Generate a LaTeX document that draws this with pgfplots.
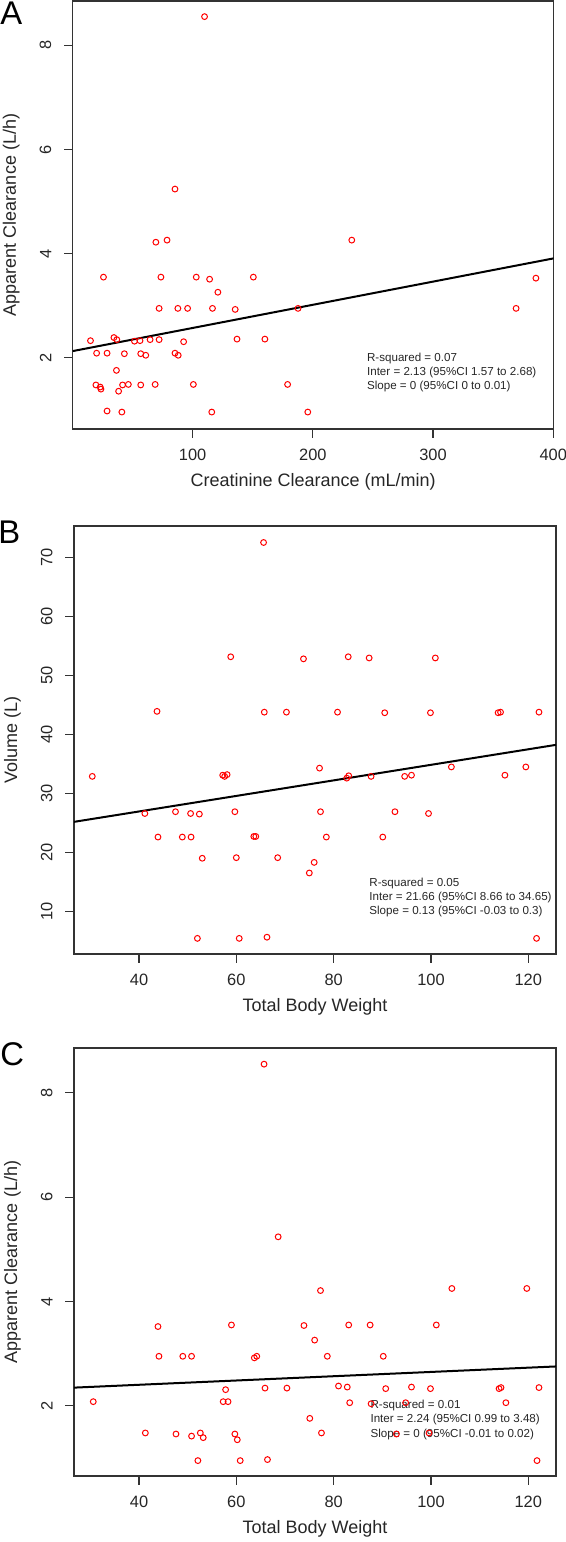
\documentclass[border=0pt]{standalone}
\usepackage{fontspec}
\setmainfont{Liberation Sans}
\usepackage{pgfplots}
\pgfplotsset{compat=1.18}
\pgfkeys{/pgf/number format/assume math mode=true}
\definecolor{rline}{HTML}{333333}
\tikzset{ytln/.style={xshift=-10.5pt, rotate=90, anchor=south, inner sep=0pt,
  font=\fontsize{8.2}{9.6}\selectfont, text=black!85}}
\newcommand\ytl[1]{\foreach \v in {#1}{%
  \draw[rline, line width=0.6pt] ({rel axis cs:0,0} |- {axis cs:0,\v}) -- ++(-4.4pt,0);%
  \node[ytln] at ({rel axis cs:0,0} |- {axis cs:0,\v}) {\v};}}
\begin{document}
\begin{tikzpicture}[x=1pt,y=1pt]
\useasboundingbox (0,0) rectangle (283,771);
\pgfplotsset{
  rstyle/.style={
    scale only axis, width=240.5pt, height=214pt,
    axis line style={rline, line width=0.7pt},
    tick align=outside, major tick length=4.4pt,
    xtick pos=left, ytick=\empty,
    tick style={rline, line width=0.6pt},
    every tick label/.append style={font=\fontsize{8.2}{9.6}\selectfont, text=black!85},
    label style={font=\fontsize{9}{10.8}\selectfont, text=black!85},
    xticklabel style={anchor=base, inner sep=0pt, yshift=-11.5pt},
    xlabel style={at={(axis description cs:0.5,-0.1355)}, anchor=base, inner sep=0pt},
    ylabel style={at={(axis description cs:-0.1179,0.5)}, anchor=base, inner sep=0pt},
    clip=true,
  },
  pts/.style={only marks, mark=o, mark size=1.45pt, mark options={red, line width=0.5pt}},
  reg/.style={black, line width=1pt, no marks},
}
\tikzset{ann/.style={anchor=base west, inner sep=0pt, font=\fontsize{5.8}{7}\selectfont, text=black!85}}

% Panel A
\begin{axis}[rstyle, at={(36.35pt,556.5pt)},
  xmin=0.2, xmax=400.4, ymin=0.635, ymax=8.85,
  xtick={100,200,300,400},
  after end axis/.code={\ytl{2,4,6,8}},
  xlabel={Creatinine Clearance (mL/min)}, ylabel={Apparent Clearance (L/h)}]
\addplot[pts] coordinates {
(15.0,2.33) (20.1,2.09) (19.5,1.48) (23.1,1.44) (23.7,1.40) (25.8,3.55)
(28.8,2.09) (28.8,0.98) (34.5,2.39) (36.9,2.35) (36.6,1.76) (38.4,1.36)
(41.7,1.48) (43.2,2.08) (41.1,0.96) (46.5,1.49) (51.6,2.32) (56.2,2.33)
(56.8,2.08) (56.8,1.48) (61.0,2.05) (64.6,2.35) (68.8,1.49) (72.1,2.35)
(72.1,2.95) (73.6,3.55) (69.4,4.22) (78.7,4.26) (85.3,5.24) (109.9,8.55)
(232.4,4.26) (85.3,2.09) (88.0,2.05) (87.7,2.95) (92.5,2.31) (95.8,2.95)
(100.6,1.49) (103.0,3.55) (114.1,3.51) (115.9,0.96) (116.5,2.95) (121.0,3.26)
(135.4,2.93) (136.9,2.36) (150.5,3.55) (160.1,2.36) (179.0,1.49) (187.7,2.95)
(195.8,0.96) (369.1,2.95) (385.6,3.53)
};
\addplot[reg] coordinates {(0.2,2.13) (400.4,3.91)};
\node[ann] at (axis cs:244.8,1.936) {R-squared = 0.07};
\node[ann] at (axis cs:244.8,1.666) {Inter = 2.13 (95\%CI 1.57 to 2.68)};
\node[ann] at (axis cs:244.8,1.393) {Slope = 0 (95\%CI 0 to 0.01)};
\end{axis}

% Panel B
\begin{axis}[rstyle, at={(37pt,294pt)}, width=241pt,
  xmin=26.64, xmax=125.7, ymin=2.75, ymax=75.4,
  xtick={40,60,80,100,120},
  after end axis/.code={\ytl{10,20,30,40,50,60,70}},
  xlabel={Total Body Weight}, ylabel={Volume (L)}]
\addplot[pts] coordinates {
(43.7,43.94) (58.85,53.2) (65.6,72.6) (65.75,43.8) (70.3,43.8) (73.8,52.85)
(80.8,43.8) (83.0,53.2) (87.3,53.0) (90.5,43.7) (99.9,43.7) (100.9,53.0)
(113.8,43.7) (114.3,43.8) (122.2,43.8)
(30.4,32.9) (41.2,26.6) (43.9,22.6) (47.5,26.9) (48.9,22.6) (50.6,26.6)
(50.7,22.6) (52.4,26.5) (52.0,5.4) (53.0,19.0) (57.2,33.1) (57.6,32.9)
(58.1,33.2) (59.7,26.9) (60.0,19.1) (60.6,5.4) (63.6,22.7) (64.0,22.7)
(66.3,5.6) (68.5,19.1) (75.0,16.5) (76.0,18.3) (77.1,34.3) (77.3,26.9)
(78.5,22.6) (82.7,32.6) (83.1,33.0) (87.7,32.9) (90.1,22.6) (92.6,26.9)
(94.6,32.9) (96.0,33.1) (99.5,26.6) (104.2,34.5) (115.2,33.1) (119.5,34.5)
(121.7,5.4)
};
\addplot[reg] coordinates {(26.64,25.18) (125.7,38.25)};
\node[ann] at (axis cs:87.27,14.23) {R-squared = 0.05};
\node[ann] at (axis cs:87.27,11.83) {Inter = 21.66 (95\%CI 8.66 to 34.65)};
\node[ann] at (axis cs:87.27,9.43) {Slope = 0.13 (95\%CI -0.03 to 0.3)};
\end{axis}

% Panel C
\begin{axis}[rstyle, at={(37pt,33pt)}, width=241pt,
  xmin=26.64, xmax=125.7, ymin=0.655, ymax=8.86,
  xtick={40,60,80,100,120},
  after end axis/.code={\ytl{2,4,6,8}},
  xlabel={Total Body Weight}, ylabel={Apparent Clearance (L/h)}]
\addplot[pts] coordinates {
(30.6,2.08) (41.3,1.48) (43.9,3.52) (44.1,2.95) (47.6,1.46) (49.0,2.95)
(50.8,1.42) (50.8,2.95) (52.6,1.48) (52.1,0.95) (53.2,1.39) (57.3,2.08)
(57.8,2.31) (58.3,2.08) (59.0,3.55) (59.7,1.46) (60.2,1.35) (60.8,0.95)
(63.7,2.92) (64.2,2.95) (65.9,2.34) (65.7,8.55) (66.4,0.97) (68.6,5.24)
(70.4,2.34) (73.9,3.54) (75.1,1.76) (76.1,3.26) (77.3,4.21) (77.5,1.48)
(78.7,2.95) (81.0,2.38) (82.8,2.36) (83.3,2.06) (83.1,3.55) (87.5,3.55)
(87.7,2.04) (90.2,2.95) (90.7,2.33) (92.9,1.46) (94.8,2.06) (96.0,2.36)
(99.6,1.48) (99.9,2.33) (101.1,3.55) (104.3,4.25) (114.0,2.33) (114.4,2.35)
(115.4,2.06) (119.7,4.25) (121.8,0.95) (122.2,2.35)
};
\addplot[reg] coordinates {(26.64,2.349) (125.7,2.755)};
\node[ann] at (axis cs:87.5,1.949) {R-squared = 0.01};
\node[ann] at (axis cs:87.5,1.679) {Inter = 2.24 (95\%CI 0.99 to 3.48)};
\node[ann] at (axis cs:87.5,1.397) {Slope = 0 (95\%CI -0.01 to 0.02)};
\end{axis}

\node[anchor=base west, inner sep=0pt, font=\fontsize{16.4}{19}\selectfont] at (0,758.5) {A};
\node[anchor=base west, inner sep=0pt, font=\fontsize{16.4}{19}\selectfont] at (-1,499.4) {B};
\node[anchor=base west, inner sep=0pt, font=\fontsize{16.4}{19}\selectfont] at (0,238.25) {C};
\end{tikzpicture}
\end{document}
